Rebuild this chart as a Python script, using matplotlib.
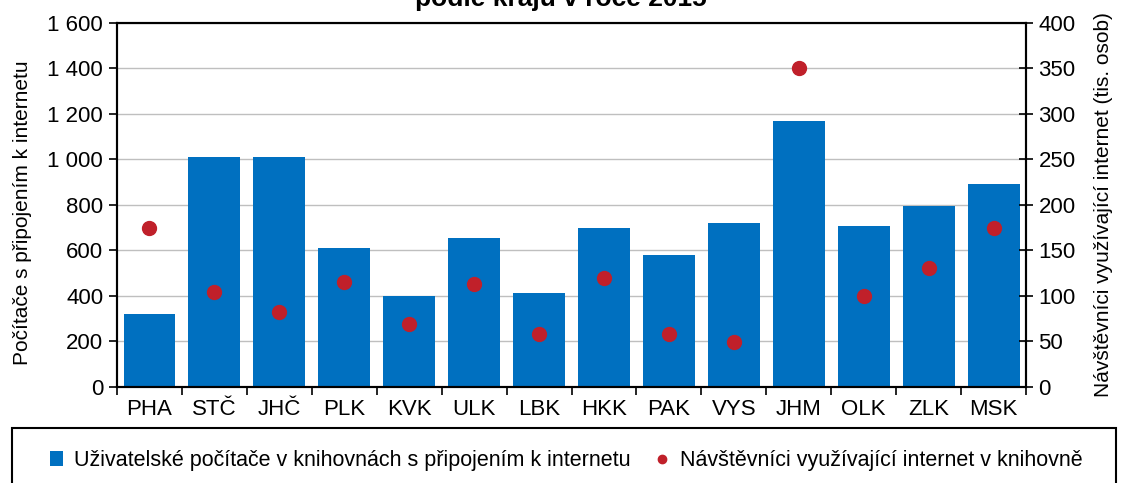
import matplotlib.pyplot as plt
import numpy as np
from matplotlib.patches import Rectangle

plt.rcParams['font.family'] = ['Liberation Sans', 'DejaVu Sans']

regions = ["PHA", "STČ", "JHČ", "PLK", "KVK", "ULK", "LBK",
           "HKK", "PAK", "VYS", "JHM", "OLK", "ZLK", "MSK"]
computers = [322, 1010, 1010, 613, 402, 657, 411, 701, 578, 720, 1167, 709, 797, 893]
visitors = [175, 104, 82, 115, 69, 113, 58, 120, 58, 49, 350, 100, 131, 175]

bar_color = "#0070C0"
dot_color = "#C0202A"

fig = plt.figure(figsize=(11.21, 4.83), dpi=100)
ax = fig.add_axes([0.1044, 0.1988, 0.8109, 0.7536])
ax2 = ax.twinx()

x = np.arange(len(regions))
ax.bar(x, computers, width=0.8, color=bar_color, zorder=2,
       label="Uživatelské počítače v knihovnách s připojením k internetu")
ax2.plot(x, visitors, "o", color=dot_color, ms=10, zorder=3,
         label="Návštěvníci využívající internet v knihovně")

ax.set_xlim(-0.5, len(regions) - 0.5)
ax.set_ylim(0, 1600)
ax2.set_ylim(0, 400)
ax.set_yticks(range(0, 1601, 200))
ax.set_yticklabels([f"{v:,}".replace(",", " ") for v in range(0, 1601, 200)])
ax2.set_yticks(range(0, 401, 50))

ax.set_xticks(x)
ax.set_xticklabels(regions)
ax.set_xticks(np.arange(-0.5, len(regions)), minor=True)
ax.tick_params(axis="x", which="major", length=0, pad=9, labelsize=16)
ax.tick_params(axis="x", which="minor", length=6, width=1.2, direction="out")
ax.tick_params(axis="y", length=6, width=1.2, direction="out", labelsize=16, pad=4)
ax2.tick_params(axis="y", length=10, width=1.2, direction="inout", labelsize=16, pad=4)

ax.grid(axis="y", color="#BFBFBF", lw=1, zorder=0)
ax.set_axisbelow(True)
for a in (ax, ax2):
    for s in a.spines.values():
        s.set_linewidth(1.5)
        s.set_color("black")

ax.set_ylabel("Počítače s připojením k internetu", fontsize=15, labelpad=12)
ax.yaxis.set_label_coords(-0.094, 0.48)
ax2.set_ylabel("Návštěvníci využívající internet (tis. osob)", fontsize=15,
               rotation=90, labelpad=13)

fig.text(0.5, 1 - 6 / 483,
         "Uživatelské počítače v knihovnách a jejich návštěvníci\npodle krajů v roce 2015",
         ha="center", va="baseline", fontsize=19, fontweight="bold")

fig.patches.append(Rectangle((12 / 1121, -0.05), 1104 / 1121, 0.05 + 1 - 428 / 483,
                             transform=fig.transFigure, fill=False,
                             edgecolor="black", lw=1.5))
h1, l1 = ax.get_legend_handles_labels()
h2, l2 = ax2.get_legend_handles_labels()
leg = fig.legend(h1 + h2, l1 + l2, loc="center", bbox_to_anchor=(0.505, 0.046),
                 ncol=2, frameon=False, fontsize=15.5, handlelength=0.6,
                 handletextpad=0.5, columnspacing=1.2, markerscale=0.6)

fig.savefig("out.png", dpi=100)
